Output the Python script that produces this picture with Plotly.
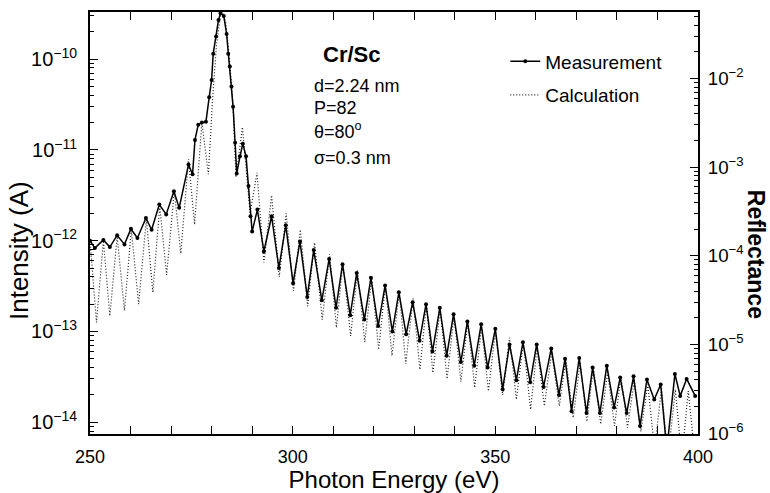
import plotly.graph_objects as go

# values
meas_energy = [
    250.0, 251.2, 253.3, 254.9, 256.7, 258.5, 260.1, 261.7, 263.8, 265.2,
    267.1, 268.8, 270.7, 272.0, 274.3, 275.3, 275.9, 276.7, 277.6, 278.6,
    279.4, 280.0, 280.4, 281.1, 281.7, 282.2, 283.0, 283.7, 284.1, 284.5,
    284.9, 285.3, 285.8, 286.2, 287.0, 287.7, 288.5, 289.1, 289.6, 290.0,
    291.3, 292.9, 294.8, 296.6, 298.3, 300.1, 301.8, 303.6, 305.2, 307.2,
    309.0, 310.7, 312.3, 314.2, 315.8, 317.7, 319.3, 321.1, 322.8, 324.6,
    326.2, 328.0, 329.6, 331.3, 332.9, 334.5, 336.3, 338.0, 339.7, 341.5,
    343.1, 344.8, 346.5, 348.1, 350.0, 351.8, 353.5, 355.2, 356.8, 358.6,
    360.2, 361.9, 363.8, 365.7, 367.2, 368.8, 370.7, 372.5, 374.0, 375.8,
    377.5, 379.3, 380.8, 382.4, 384.1, 385.7, 387.4, 389.2, 390.8, 392.3,
    394.3, 395.6, 397.2, 399.3,
]
meas_intensity = [
    1.0e-12, 8.3e-13, 1.02e-12, 8.5e-13, 1.15e-12, 9.1e-13, 1.35e-12, 1.07e-12, 1.78e-12, 1.32e-12,
    2.5e-12, 1.95e-12, 3.5e-12, 2.3e-12, 6.9e-12, 5.4e-12, 1.29e-11, 1.9e-11, 2.0e-11, 2.04e-11,
    3.8e-11, 5.9e-11, 1.15e-10, 1.78e-10, 2.7e-10, 3.2e-10, 3.0e-10, 1.9e-10, 1.15e-10, 8.3e-11,
    5.0e-11, 3.0e-11, 1.2e-11, 5.5e-12, 8.5e-12, 1.17e-11, 8.5e-12, 4.0e-12, 1.86e-12, 1.26e-12,
    2.2e-12, 7.6e-13, 1.86e-12, 5.0e-13, 1.48e-12, 3.4e-13, 9.8e-13, 2.4e-13, 7.9e-13, 2.2e-13,
    6.3e-13, 1.82e-13, 5.5e-13, 1.51e-13, 4.4e-13, 1.35e-13, 3.9e-13, 1.15e-13, 3.2e-13, 1.0e-13,
    2.7e-13, 9.3e-14, 2.1e-13, 7.9e-14, 2.0e-13, 6.0e-14, 1.82e-13, 5.4e-14, 1.55e-13, 4.6e-14,
    1.29e-13, 4.2e-14, 1.2e-13, 4.0e-14, 1.07e-13, 2.3e-14, 7.2e-14, 2.9e-14, 7.6e-14, 2.75e-14,
    7.2e-14, 2.45e-14, 6.5e-14, 2.0e-14, 5.0e-14, 1.32e-14, 5.1e-14, 1.26e-14, 4.0e-14, 1.26e-14,
    4.2e-14, 1.45e-14, 3.1e-14, 1.26e-14, 3.2e-14, 9.1e-15, 2.95e-14, 1.78e-14, 2.6e-14, 5.0e-15,
    3.4e-14, 1.95e-14, 3.0e-14, 1.95e-14,
]

calc_energy = [
    250.0, 251.6, 253.3, 254.9, 256.7, 258.5, 260.2, 262.0, 263.9, 265.5,
    267.2, 268.9, 270.8, 272.4, 274.3, 275.8, 277.6, 279.2, 280.3, 281.2,
    282.4, 283.5, 284.5, 285.4, 286.0, 287.6, 289.5, 291.2, 292.9, 294.8,
    296.7, 298.4, 300.2, 301.9, 303.7, 305.4, 307.3, 309.1, 310.8, 312.4,
    314.3, 316.0, 317.8, 319.5, 321.2, 322.9, 324.5, 326.3, 327.9, 329.7,
    331.4, 333.0, 334.6, 336.4, 338.1, 339.8, 341.5, 343.2, 344.9, 346.6,
    348.3, 350.0, 351.8, 353.5, 355.2, 356.9, 358.7, 360.3, 362.1, 363.9,
    365.8, 367.4, 369.2, 370.9, 372.6, 374.2, 376.0, 377.7, 379.4, 381.0,
    382.6, 384.3, 385.9, 387.6, 389.3, 391.0, 392.6, 394.4, 396.0, 397.6,
    399.3,
]
calc_intensity = [
    1.0e-12, 1.26e-13, 1.0e-12, 1.48e-13, 1.12e-12, 1.7e-13, 1.32e-12, 2.0e-13, 1.74e-12, 2.7e-13,
    2.4e-12, 4.2e-13, 3.55e-12, 7.2e-13, 7.9e-12, 1.51e-12, 2.0e-11, 5.4e-12, 4.0e-11, 1.41e-10,
    3.55e-10, 2.5e-10, 8.9e-11, 2.5e-11, 5.0e-12, 1.78e-11, 2.0e-12, 5.6e-12, 5.75e-13, 3.16e-12,
    4.0e-13, 2.0e-12, 2.8e-13, 1.32e-12, 1.9e-13, 9.5e-13, 1.35e-13, 7.1e-13, 1.1e-13, 5.75e-13,
    8.9e-14, 4.7e-13, 7.6e-14, 4.0e-13, 6.3e-14, 3.3e-13, 5.4e-14, 2.75e-13, 4.4e-14, 2.3e-13,
    3.8e-14, 2.0e-13, 3.5e-14, 1.78e-13, 3.0e-14, 1.51e-13, 2.8e-14, 1.29e-13, 2.4e-14, 1.12e-13,
    2.2e-14, 1.0e-13, 2.0e-14, 8.5e-14, 1.78e-14, 7.6e-14, 1.38e-14, 6.6e-14, 1.51e-14, 5.9e-14,
    1.51e-14, 5.0e-14, 1.12e-14, 4.5e-14, 1.02e-14, 4.0e-14, 9.5e-15, 3.55e-14, 9.1e-15, 3.2e-14,
    8.7e-15, 2.9e-14, 7.9e-15, 2.6e-14, 5.0e-15, 2.4e-14, 4.0e-15, 2.3e-14, 4.0e-15, 2.2e-14,
    4.0e-15,
]

sample_name = 'Cr/Sc'
sample_info = ['d=2.24 nm', 'P=82', 'θ=80<sup>o</sup>', 'σ=0.3 nm']

FONT = 'Liberation Sans, Arial, sans-serif'

fig = go.Figure()
fig.add_trace(go.Scatter(x=calc_energy, y=calc_intensity, name='Calculation',
                         mode='lines', legendrank=2, legendgroup='calc',
                         line=dict(color='#222222', width=1.2, dash='1px,2px')))
fig.add_trace(go.Scatter(x=meas_energy, y=meas_intensity, name='Measurement',
                         mode='lines+markers', legendrank=1, legendgroup='meas',
                         line=dict(color='black', width=1.5),
                         marker=dict(size=4, color='black')))
# empty trace so the reflectance axis is drawn
fig.add_trace(go.Scatter(x=[None], y=[None], yaxis='y2', showlegend=False,
                         hoverinfo='skip'))

axis_style = dict(showline=True, linecolor='black', linewidth=1.5,
                  ticks='inside', tickcolor='black', tickwidth=1.2,
                  showgrid=False, zeroline=False, automargin=False)

fig.update_layout(
    width=770, height=493,
    margin=dict(l=90, r=72, t=12, b=59, autoexpand=False),
    paper_bgcolor='white', plot_bgcolor='white',
    font=dict(family=FONT, color='black'),
    showlegend=True,
    legend=dict(x=0.683, y=0.928, xanchor='left', yanchor='top',
                traceorder='grouped', tracegroupgap=6,
                font=dict(size=19), bgcolor='rgba(0,0,0,0)'),
    xaxis=dict(range=[250, 400], tick0=250, dtick=50, ticklen=8,
               mirror='allticks', ticklabelstandoff=6,
               tickfont=dict(size=18, color='black'),
               minor=dict(dtick=10, ticks='inside', ticklen=4, tickcolor='black'),
               title=dict(text='Photon Energy (eV)', font=dict(size=24), standoff=8),
               **axis_style),
    yaxis=dict(type='log', range=[-14.13, -9.48], dtick=1, exponentformat='power',
               ticklen=8, ticklabelstandoff=8,
               tickfont=dict(size=16, color='black'),
               minor=dict(dtick='D1', ticks='inside', ticklen=4, tickcolor='black'),
               **axis_style),
    yaxis2=dict(type='log', range=[-6.01, -1.25], dtick=1, exponentformat='power',
                overlaying='y', side='right', ticklen=8, ticklabelstandoff=5,
                tickfont=dict(size=15, color='black'),
                minor=dict(dtick='D1', ticks='inside', ticklen=4, tickcolor='black'),
                **axis_style),
)

# sample description, placed in data coordinates (y given as log10 on the log axis)
fig.add_annotation(x=314.4, y=-9.945, xref='x', yref='y', showarrow=False,
                   text='<b>' + sample_name + '</b>', font=dict(size=22))
info_levels = [-10.30, -10.54, -10.79, -11.09]
for txt, lev in zip(sample_info, info_levels):
    fig.add_annotation(x=304.8, y=lev, xref='x', yref='y', xanchor='left',
                       showarrow=False, text=txt, font=dict(size=18))

# axis titles as annotations so they can sit off-centre and read downward on the right
fig.add_annotation(x=-0.1168, y=0.436, xref='paper', yref='paper', showarrow=False,
                   xanchor='center', yanchor='middle',
                   textangle=-90, text='Intensity (A)', font=dict(size=26))
fig.add_annotation(x=1.0954, y=0.427, xref='paper', yref='paper', showarrow=False,
                   xanchor='center', yanchor='middle', borderpad=0,
                   textangle=90, text='<b>Reflectance</b>', font=dict(size=23))

# the page body has a default margin; drop it so the figure fills the window
fig.write_html('out.html', config={'displayModeBar': False},
               post_script="document.body.style.margin='0';")
